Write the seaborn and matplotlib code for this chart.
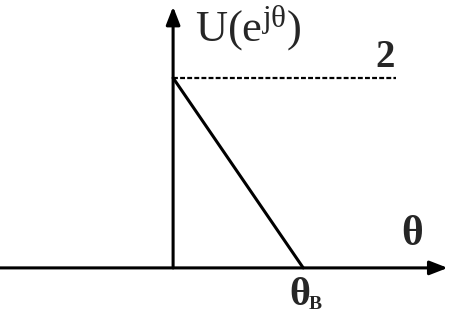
import matplotlib
matplotlib.use("Agg")
import matplotlib.pyplot as plt
import seaborn as sns
import pandas as pd

# Response U(e^{jθ}) falling linearly from 2 at θ=0 to 0 at θ=θ_B
theta = [0.0, 1.0]
u_vals = [2.0, 0.0]
level = 2.0
level_end = 1.71
x_min, x_max = -1.33, 2.12
y_min, y_max = -0.58, 2.82

sns.set_theme(style="white")
plt.rcParams["font.family"] = ["Liberation Serif", "DejaVu Serif"]
plt.rcParams["mathtext.fontset"] = "custom"
plt.rcParams["mathtext.rm"] = "Liberation Serif"
plt.rcParams["mathtext.it"] = "Liberation Serif"
plt.rcParams["mathtext.bf"] = "Liberation Serif:bold"

fig = plt.figure(figsize=(4.49, 3.23), dpi=100)
ax = fig.add_axes([0, 0, 1, 1])
ax.set_xlim(x_min, x_max)
ax.set_ylim(y_min, y_max)
ax.axis("off")

df = pd.DataFrame({"theta": theta, "U": u_vals})
sns.lineplot(data=df, x="theta", y="U", ax=ax, color="black", linewidth=2.2)

# dashed reference level
ax.plot([0, level_end], [level, level], color="black", linewidth=1.6,
        linestyle=(0, (2.2, 1.0)))

# axes with arrow heads
arrow = dict(arrowstyle="-|>,head_length=0.9,head_width=0.35", color="black",
             lw=2.2, shrinkA=0, shrinkB=0)
ax.annotate("", xy=(x_max - 0.01, 0), xytext=(x_min, 0), arrowprops=arrow)
ax.annotate("", xy=(0, 2.75), xytext=(0, 0), arrowprops=arrow)

ax.text(0.17, 2.78, "U(e$^{\\mathrm{j\u03b8}}$)", fontsize=32, va="top", ha="left")
ax.text(1.63, 2.02, "2", fontsize=28, fontweight="bold", va="bottom", ha="center")
ax.text(1.84, 0.15, "\u03b8", fontsize=30, fontweight="bold", va="bottom", ha="center")
ax.text(0.89, -0.1, "\u03b8", fontsize=29, fontweight="bold", va="top", ha="left")
ax.text(1.04, -0.3, "B", fontsize=14, fontweight="bold", va="top", ha="left")

fig.savefig("out.png", dpi=100)
